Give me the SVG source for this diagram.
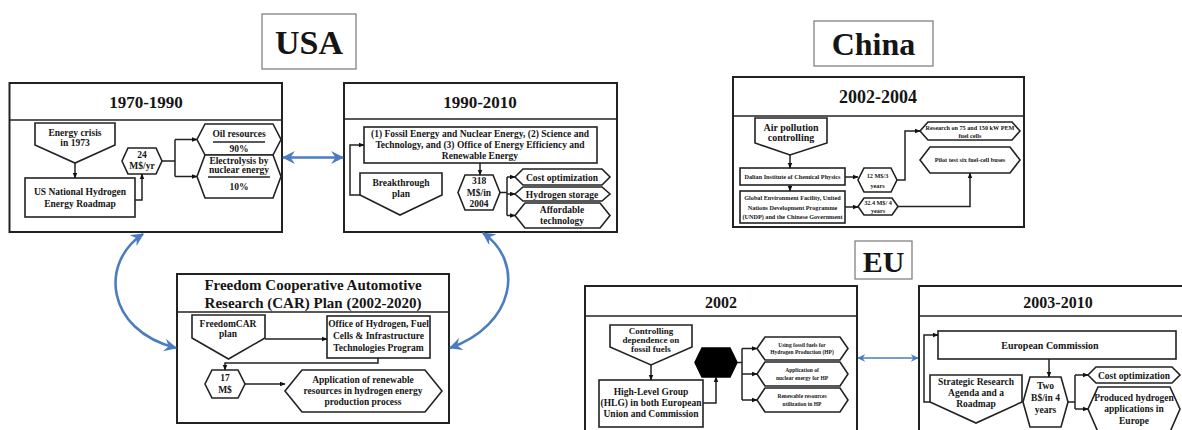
<svg xmlns="http://www.w3.org/2000/svg" width="1182" height="430" viewBox="0 0 1182 430">
<style>
text{font-family:"Liberation Serif","Times New Roman",serif;font-weight:bold;text-anchor:middle;fill:#151515}
.t{font-size:9.5px}
.s{font-size:6.2px}
.xs{font-size:5.5px}
.h{font-size:17px}
.ttl{fill:#fff;stroke:#777;stroke-width:1.2}
.panel{fill:#fff;stroke:#222;stroke-width:2}
.sep{stroke:#222;stroke-width:1.6}
.sh{fill:#fff;stroke:#222;stroke-width:1.6}
.ln{fill:none;stroke:#222;stroke-width:1.5}
.ar{fill:none;stroke:#222;stroke-width:1.5;marker-end:url(#a)}
.bl{fill:none;stroke:#4a7dc0;stroke-width:2.6;marker-start:url(#b);marker-end:url(#b)}
.bl2{fill:none;stroke:#4a7dc0;stroke-width:1.4;marker-start:url(#b2);marker-end:url(#b2)}
</style>
<defs>
<marker id="a" viewBox="0 0 10 10" refX="9" refY="5" markerWidth="6" markerHeight="6" markerUnits="userSpaceOnUse" orient="auto"><path d="M0,1 L10,5 L0,9 z" fill="#111"/></marker>
<marker id="b" viewBox="0 0 12 12" refX="11" refY="6" markerWidth="13" markerHeight="13" markerUnits="userSpaceOnUse" orient="auto-start-reverse"><path d="M0,0 L12,6 L0,12 L4,6 z" fill="#4a7dc0"/></marker>
<marker id="b2" viewBox="0 0 12 12" refX="11" refY="6" markerWidth="8" markerHeight="8" markerUnits="userSpaceOnUse" orient="auto-start-reverse"><path d="M0,0 L12,6 L0,12 L4,6 z" fill="#4a7dc0"/></marker>
</defs>
<rect width="1182" height="430" fill="#fff"/>

<!-- Titles -->
<g id="title-usa"><rect class="ttl" x="262" y="14" width="94" height="55"/><text x="309" y="54" style="font-size:34px">USA</text></g>
<g id="title-china"><rect class="ttl" x="814" y="21" width="119" height="45"/><text x="873.5" y="55" style="font-size:32px">China</text></g>
<g id="title-eu"><rect class="ttl" x="855" y="241" width="57" height="38"/><text x="883.5" y="272" style="font-size:30px">EU</text></g>

<!-- Panels -->
<g id="panel-1970">
<rect class="panel" x="9.5" y="83" width="272.5" height="149"/><line class="sep" x1="9.5" y1="120" x2="282" y2="120"/>
<text class="h" x="146" y="108">1970-1990</text>
</g>
<g id="panel-1990">
<rect class="panel" x="344" y="83" width="273" height="149"/><line class="sep" x1="344" y1="119" x2="617" y2="119"/>
<text class="h" x="480" y="108">1990-2010</text>
</g>
<g id="panel-freedom">
<rect class="panel" x="177" y="274" width="272" height="149"/><line class="sep" x1="177" y1="312" x2="449" y2="312"/>
<text x="313" y="290" style="font-size:15px">Freedom Cooperative Automotive</text>
<text x="313" y="307.5" style="font-size:15px">Research (CAR) Plan (2002-2020)</text>
</g>
<g id="panel-china">
<rect class="panel" x="733" y="77" width="291" height="150"/><line class="sep" x1="733" y1="116" x2="1024" y2="116"/>
<text x="878" y="103" style="font-size:18px">2002-2004</text>
</g>
<g id="panel-eu2002">
<rect class="panel" x="585" y="286" width="272" height="160"/><line class="sep" x1="585" y1="316" x2="857" y2="316"/>
<text x="721" y="308" style="font-size:16px">2002</text>
</g>
<g id="panel-eu2003">
<rect class="panel" x="919" y="286" width="280" height="160"/><line class="sep" x1="919" y1="316" x2="1199" y2="316"/>
<text x="1058" y="308" style="font-size:16px">2003-2010</text>
</g>

<!-- 1970-1990 nodes -->
<g id="n-energy-crisis"><polygon class="sh" points="35,123 115,123 115,145 75,163 35,145"/><text class="t" x="75" y="136">Energy crisis</text><text class="t" x="75" y="146">in 1973</text></g>
<g id="n-us-roadmap"><rect class="sh" x="25" y="178" width="110" height="39"/><text class="t" x="80" y="195">US National Hydrogen</text><text class="t" x="80" y="207">Energy Roadmap</text></g>
<g id="n-24m"><polygon class="sh" points="128,148 156,148 162,161 156,174 128,174 122,161"/><text class="t" x="142" y="158">24</text><text class="t" x="142" y="169">M$/yr</text></g>
<g id="n-oil"><polygon class="sh" points="205,124 273,124 281,139.5 273,155 205,155 197,139.5"/><text class="t" x="239" y="137">Oil resources</text><line class="ln" x1="213" y1="142" x2="265" y2="142"/><text class="t" x="239" y="152">90%</text></g>
<g id="n-electrolysis"><polygon class="sh" points="205,155 273,155 281,176.5 273,198 205,198 197,176.5"/><text class="t" x="239" y="164">Electrolysis by</text><text class="t" x="239" y="173">nuclear energy</text><line class="ln" x1="208" y1="177" x2="270" y2="177"/><text class="t" x="239" y="190">10%</text></g>

<!-- 1990-2010 nodes -->
<g id="n-offices"><rect class="sh" x="364" y="127" width="233" height="36"/><text class="t" x="480" y="137">(1) Fossil Energy and Nuclear Energy, (2) Science and</text><text class="t" x="480" y="148">Technology, and (3) Office of Energy Efficiency and</text><text class="t" x="480" y="159">Renewable Energy</text></g>
<g id="n-breakthrough"><polygon class="sh" points="360,173 442,173 442,195 400,215 360,195"/><text class="t" x="401" y="186">Breakthrough</text><text class="t" x="401" y="197">plan</text></g>
<g id="n-318m"><polygon class="sh" points="465,175 493,175 500,192.5 493,210 465,210 458,192.5"/><text class="t" x="479" y="184">318</text><text class="t" x="479" y="195.5">M$/in</text><text class="t" x="479" y="207">2004</text></g>
<g id="n-cost1"><polygon class="sh" points="523,169 602,169 610,177 602,185 523,185 515,177"/><text class="t" x="562" y="180.5">Cost optimization</text></g>
<g id="n-storage"><polygon class="sh" points="523,187 602,187 610,194 602,201 523,201 515,194"/><text class="t" x="562" y="197.5">Hydrogen storage</text></g>
<g id="n-affordable"><polygon class="sh" points="525,203 600,203 610,215.5 600,228 525,228 515,215.5"/><text class="t" x="562" y="213">Affordable</text><text class="t" x="562" y="224">technology</text></g>

<!-- Freedom nodes -->
<g id="n-freedomcar"><polygon class="sh" points="192,315 265,315 265,338 228.5,359 192,338"/><text class="t" x="228" y="327">FreedomCAR</text><text class="t" x="228" y="337">plan</text></g>
<g id="n-office-h2"><rect class="sh" x="327" y="316" width="103" height="42"/><text class="t" x="378.5" y="327">Office of Hydrogen, Fuel</text><text class="t" x="378.5" y="339">Cells &amp; Infrastructure</text><text class="t" x="378.5" y="351">Technologies Program</text></g>
<g id="n-17m"><polygon class="sh" points="212,370 238,370 245,384 238,398 212,398 205,384"/><text class="t" x="225" y="381">17</text><text class="t" x="225" y="393">M$</text></g>
<g id="n-application"><polygon class="sh" points="302,370 425,370 442,391 425,412 302,412 285,391"/><text class="t" x="363" y="383">Application of renewable</text><text class="t" x="363" y="394">resources in hydrogen energy</text><text class="t" x="363" y="405">production process</text></g>

<!-- China nodes -->
<g id="n-air"><polygon class="sh" points="755,118 827,118 827,143 790,155 755,143"/><text x="791" y="131" style="font-size:10px">Air pollution</text><text x="791" y="141" style="font-size:10px">controlling</text></g>
<g id="n-dalian"><rect class="sh" x="740" y="168" width="105" height="17"/><text class="s" x="792.5" y="179">Dalian Institute of Chemical Physics</text></g>
<g id="n-12m"><polygon class="sh" points="864,168 891,168 897,180 891,192 864,192 858,180"/><text class="s" x="877.5" y="178">12 M$/3</text><text class="s" x="877.5" y="188">years</text></g>
<g id="n-research"><polygon class="sh" points="928,122 1012,122 1020,131 1012,140 928,140 920,131"/><text class="s" x="970" y="130">Research on 75 and 150 kW PEM</text><text class="s" x="970" y="137.5">fuel cells</text></g>
<g id="n-pilot"><polygon class="sh" points="930,147 1010,147 1020,160 1010,173 930,173 920,160"/><text class="s" x="970" y="162">Pilot test six fuel-cell buses</text></g>
<g id="n-global"><rect class="sh" x="740" y="191" width="105" height="32"/><text class="s" x="792.5" y="200">Global Environment Facility, United</text><text class="s" x="792.5" y="209.5">Nations Development Programme</text><text class="s" x="792.5" y="219">(UNDP) and the Chinese Government</text></g>
<g id="n-32m"><polygon class="sh" points="864,198 892,198 898,206.5 892,215 864,215 858,206.5"/><text class="s" x="878" y="205">32.4 M$/ 4</text><text class="s" x="878" y="212.5">years</text></g>

<!-- EU 2002 nodes -->
<g id="n-controlling"><polygon class="sh" points="610,325 692,325 692,347 651,365 610,347"/><text x="651" y="333.5" style="font-size:9px">Controlling</text><text x="651" y="342.5" style="font-size:9px">dependence on</text><text x="651" y="351.5" style="font-size:9px">fossil fuels</text></g>
<g id="n-hlg"><rect class="sh" x="599" y="380" width="104" height="47"/><text class="t" x="651" y="395">High-Level Group</text><text class="t" x="651" y="406">(HLG) in both European</text><text class="t" x="651" y="417">Union and Commission</text></g>
<g id="n-black"><polygon points="702,348 730,348 737,362.5 730,377 702,377 695,362.5" fill="#000" stroke="#000" stroke-width="1.5"/></g>
<g id="n-fossil"><polygon class="sh" points="765,337 840,337 848,348.5 840,360 765,360 757,348.5"/><text class="xs" x="802" y="346.5">Using fossil fuels for</text><text class="xs" x="802" y="354">Hydrogen Production (HP)</text></g>
<g id="n-nuclear"><polygon class="sh" points="765,362 840,362 848,374 840,386 765,386 757,374"/><text class="xs" x="802" y="372">Application of</text><text class="xs" x="802" y="379.5">nuclear energy for HP</text></g>
<g id="n-renewable"><polygon class="sh" points="765,388 840,388 848,400 840,412 765,412 757,400"/><text class="xs" x="802" y="398">Renewable resources</text><text class="xs" x="802" y="405.5">utilization in HP</text></g>

<!-- EU 2003-2010 nodes -->
<g id="n-ec"><rect class="sh" x="938" y="331" width="238" height="28"/><text style="font-size:10px" x="1050" y="348.5">European Commission</text></g>
<g id="n-strategic"><polygon class="sh" points="930,375 1022,375 1022,402 976,423 930,402"/><text class="t" x="976" y="385">Strategic Research</text><text class="t" x="976" y="396">Agenda and a</text><text class="t" x="976" y="407">Roadmap</text></g>
<g id="n-twob"><polygon class="sh" points="1030,377 1061,377 1068,402 1061,427 1030,427 1023,402"/><text class="t" x="1045.5" y="389">Two</text><text class="t" x="1045.5" y="401">B$/in 4</text><text class="t" x="1045.5" y="413">years</text></g>
<g id="n-cost2"><polygon class="sh" points="1096,367 1172,367 1180,375 1172,383 1096,383 1088,375"/><text class="t" x="1134" y="378.5">Cost optimization</text></g>
<g id="n-produced"><polygon class="sh" points="1098,387 1170,387 1180,409 1170,432 1098,432 1088,409"/><text class="t" x="1134" y="401">Produced hydrogen</text><text class="t" x="1134" y="412">applications in</text><text class="t" x="1134" y="424">Europe</text></g>

<!-- Connectors -->
<g id="connectors">
<path class="ar" d="M75,163 V178"/>
<path class="ar" d="M135,200 H142 V174"/>
<path class="ln" d="M162,161 H175 M175,139.5 V176.5"/>
<path class="ar" d="M175,139.5 H197"/>
<path class="ar" d="M175,176.5 H197"/>

<path class="ar" d="M360,195 H350 V145 H364"/>
<path class="ar" d="M480,163 V175"/>
<path class="ln" d="M500,192.5 H507 M507,177 V215.5"/>
<path class="ar" d="M507,177 H515"/>
<path class="ar" d="M507,194 H515"/>
<path class="ar" d="M507,215.5 H515"/>

<path class="ar" d="M265,339 H327"/>
<path class="ar" d="M378,358 V363 H225 V370"/>
<path class="ar" d="M245,384 H285"/>

<path class="ar" d="M790,155 V168"/>
<path class="ar" d="M845,177 H858"/>
<path class="ar" d="M897,180 H905 V131 H920"/>
<path class="ar" d="M790,185 V191"/>
<path class="ar" d="M845,207 H858"/>
<path class="ar" d="M898,206.5 H970 V173"/>

<path class="ar" d="M651,365 V380"/>
<path class="ar" d="M703,403 H716 V377"/>
<path class="ln" d="M737,362.5 H742 M742,348.5 V400"/>
<path class="ar" d="M742,348.5 H757"/>
<path class="ar" d="M742,374 H757"/>
<path class="ar" d="M742,400 H757"/>

<path class="ar" d="M930,402 H924 V335 H938"/>
<path class="ar" d="M1049,359 V377"/>
<path class="ln" d="M1068,402 H1075 M1075,375 V409"/>
<path class="ar" d="M1075,375 H1088"/>
<path class="ar" d="M1075,409 H1088"/>

<path class="bl" d="M283,157.5 H343"/>
<path class="bl" d="M143,234 C100,262 105,330 176,348"/>
<path class="bl" d="M483,233 C525,262 515,325 450,348"/>
<path class="bl2" d="M858,358 H918"/>
</g>
</svg>
